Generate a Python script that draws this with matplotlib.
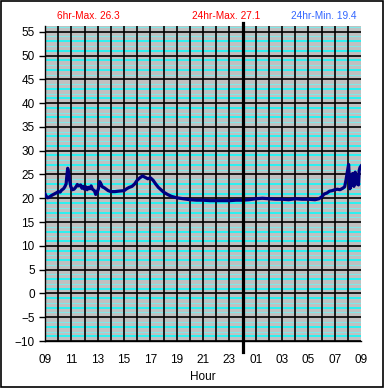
import matplotlib.pyplot as plt
from matplotlib.patches import Rectangle

# horas desde las 09:00 y temperatura
hours = [0.00, 0.10, 0.20, 0.35, 0.50, 0.70, 0.90, 1.00, 1.15, 1.25, 1.40, 1.50,
         1.60, 1.65, 1.72, 1.78, 1.85, 1.95, 2.05, 2.20, 2.35, 2.45, 2.55, 2.70,
         2.80, 2.90, 3.00, 3.10, 3.20, 3.30, 3.40, 3.50, 3.60, 3.75, 3.85, 3.95,
         4.05, 4.15, 4.25, 4.35, 4.50, 4.65, 4.80, 5.00, 5.30, 5.60, 6.00, 6.20,
         6.40, 6.60, 6.80, 7.00, 7.20, 7.40, 7.60, 7.80, 8.00, 8.20, 8.40, 8.60,
         8.80, 9.00, 9.30, 9.60, 10.0, 10.5, 11.0, 11.5, 12.0, 12.5, 13.0, 13.5,
         14.0, 14.5, 15.0, 15.5, 16.0, 16.5, 17.0, 17.5, 18.0, 18.5, 19.0, 19.5,
         20.0, 20.5, 20.8, 21.0, 21.2, 21.4, 21.6, 21.8, 22.0, 22.2, 22.4, 22.6,
         22.75, 22.85, 22.95, 23.05, 23.10, 23.15, 23.25, 23.35, 23.45, 23.55,
         23.65, 23.75, 23.80, 23.85, 23.92, 24.00]
temps = [20.9, 20.4, 20.1, 20.3, 20.6, 20.9, 21.2, 21.4, 21.3, 21.7, 22.0, 22.4,
         23.0, 24.5, 26.3, 25.6, 24.0, 22.5, 21.8, 21.9, 22.4, 22.9, 22.6, 22.8,
         22.1, 22.5, 21.9, 22.4, 21.8, 22.3, 22.0, 22.6, 21.9, 21.6, 20.8, 21.2,
         22.0, 23.5, 23.0, 22.4, 22.2, 21.9, 21.6, 21.4, 21.4, 21.5, 21.6, 22.0,
         22.3, 22.5, 23.0, 23.8, 24.3, 24.7, 24.4, 24.1, 24.3, 23.8, 23.0, 22.3,
         21.8, 21.3, 20.8, 20.4, 20.1, 19.9, 19.7, 19.6, 19.6, 19.5, 19.5, 19.5,
         19.5, 19.6, 19.6, 19.7, 19.9, 20.0, 19.9, 19.8, 19.8, 19.7, 19.9, 19.8,
         19.8, 19.7, 19.9, 20.3, 20.9, 21.1, 21.5, 21.6, 21.8, 21.9, 21.8, 22.1,
         22.4, 23.8, 25.5, 27.1, 24.5, 22.0, 23.0, 25.2, 22.5, 25.5,
         23.0, 24.5, 22.8, 25.8, 26.5, 26.8]

tick_labels = ["09", "11", "13", "15", "17", "19", "21", "23",
               "01", "03", "05", "07", "09"]

plt.rcParams['font.family'] = ['Liberation Sans', 'DejaVu Sans']

fig = plt.figure(figsize=(3.85, 3.88), dpi=100)
ax = fig.add_axes([0.117, 0.121, 0.821, 0.812])
ax.set_facecolor("#c0c0c0")

# rejilla
for v in range(-10, 57):
    if v % 5 != 0:
        if v % 2:
            ax.axhline(v, color="#00ffff", lw=1.1, zorder=1)
        else:
            ax.axhline(v, color="#80e8e8", lw=0.8, zorder=1)
for v in range(-10, 56, 5):
    ax.axhline(v, color="black", lw=1.2, zorder=2)
for h in range(1, 24):
    ax.axvline(h, color="black", lw=1.2, zorder=2)

ax.plot(hours, temps, color="#000080", lw=2.3, zorder=4)

# medianoche
ax.plot([15, 15], [-0.035, 1.008], color="black", lw=2.3,
        transform=ax.get_xaxis_transform(), clip_on=False, zorder=5)

ax.set_xlim(0, 24)
ax.set_ylim(-10, 56.2)
ax.set_yticks(range(-10, 56, 5))
ax.set_xticks(range(0, 25, 2))
ax.set_xticklabels(tick_labels)
ax.tick_params(axis="both", labelsize=8.5, length=4, width=1, colors="black")
ax.tick_params(axis="x", length=0, pad=9)
for s in ["top", "right"]:
    ax.spines[s].set_visible(False)
ax.spines["left"].set_linewidth(1)
ax.spines["bottom"].set_linewidth(1)
ax.set_xlabel("Hour", fontsize=8.5, labelpad=4)

fig.text(0.229, 0.96, "6hr-Max. 26.3", color="red", fontsize=7.3, ha="center", va="center")
fig.text(0.588, 0.96, "24hr-Max. 27.1", color="red", fontsize=7.3, ha="center", va="center")
fig.text(0.842, 0.96, "24hr-Min. 19.4", color="#3366ff", fontsize=7.3, ha="center", va="center")

fig.patches.append(Rectangle((0.002, 0.003), 0.994, 0.994, transform=fig.transFigure,
                             fill=False, edgecolor="black", lw=1.2))

fig.savefig("out.png", dpi=100)
